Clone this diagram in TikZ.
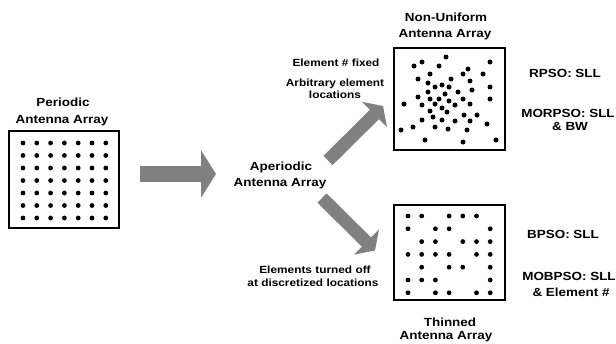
\documentclass[tikz,border=0pt]{standalone}
\usepackage{fontspec}
\newfontfamily\labfont[FakeStretch=1.14]{Liberation Sans}
\usetikzlibrary{arrows.meta}
\definecolor{arrgray}{RGB}{128,128,128}
\begin{document}
\begin{tikzpicture}[x=1pt,y=-1pt,
  bigtxt/.style={anchor=base,inner sep=0pt,font=\labfont\bfseries\fontsize{11.8}{13}\selectfont},
  smalltxt/.style={anchor=base,inner sep=0pt,font=\labfont\bfseries\fontsize{10.4}{12}\selectfont},
  arraybox/.style={draw=black,line width=1.4pt},
  elem/.style={fill=black,draw=none},
  harrow/.style={draw=arrgray,line width=16pt,line cap=butt,-{Triangle[length=15pt,width=47pt]}},
  darrow/.style={draw=arrgray,line width=13pt,line cap=butt,-{Triangle[length=12pt,width=35pt]}}]
\useasboundingbox (0,0) rectangle (616,343);

% Periodic array
\node[bigtxt] (pl1) at (63,106) {Periodic};
\node[bigtxt] (pl2) at (62,123) {Antenna Array};
\draw[arraybox] (9,131) rectangle (119,228);
\foreach \i in {0,...,6}{
  \foreach \j in {0,...,6}{
    \fill[elem] (23+13.8*\i,143+12.5*\j) circle (2.4);
  }
}

% Horizontal arrow
\coordinate (hs) at (140,174);
\coordinate (he) at (216,174);
\draw[harrow] (hs) -- (he);

% Aperiodic
\node[bigtxt] (al1) at (281,170) {Aperiodic};
\node[bigtxt] (al2) at (280,186) {Antenna Array};

% Diagonal arrows
\coordinate (us) at (328,160.5);
\coordinate (ue) at (383,106);
\draw[darrow] (us) -- (ue);
\coordinate (ls) at (322,198);
\coordinate (le) at (375,250.5);
\draw[darrow] (ls) -- (le);

% Upper labels
\node[smalltxt] (ef) at (336,66) {Element \# fixed};
\node[smalltxt] (ae1) at (335,86) {Arbitrary element};
\node[smalltxt] (ae2) at (335,98) {locations};

% Lower labels
\node[smalltxt] (et1) at (315,273) {Elements turned off};
\node[smalltxt] (et2) at (313,286) {at discretized locations};

% Non-uniform array
\node[bigtxt] (nl1) at (446,21) {Non-Uniform};
\node[bigtxt] (nl2) at (445,37) {Antenna Array};
\draw[arraybox] (394,48) rectangle (505,150);
\foreach \p in {(446,57),(414,66),(422,62),(439,66),(490,62),(468,69),(430,74),(463,74),(483,74),
  (418,79),(451,79),(470,81),(428,83),(435,87),(442,85),(449,87),(490,87),(428,92),(458,92),
  (472,90),(445,94),(418,97),(430,99),(439,99),(449,101),(463,99),(490,99),(404,104),(422,105),
  (435,104),(455,105),(470,104),(442,108),(430,111),(447,112),(464,115),(477,115),(433,117),
  (442,120),(422,120),(455,121),(470,121),(487,124),(413,127),(435,127),(448,129),(467,130),
  (401,130),(425,140),(463,142),(496,140)}{
  \fill[elem] \p circle (2.5);
}
\node[bigtxt] (r1) at (565,77) {RPSO: SLL};
\node[bigtxt] (r2) at (568,117) {MORPSO: SLL};
\node[bigtxt] (r3) at (570,130) {\& BW};

% Thinned array
\draw[arraybox] (394,205) rectangle (505,300);
\foreach \r/\cols in {0/{0,1,3,4,5},1/{0,2,3,6},2/{1,2,4,5,6},3/{0,1,2,3,5,6},4/{1,3,4,6},5/{0,1,2,6},6/{0,2,3,5,6}}{
  \foreach \c in \cols {
    \fill[elem] (408+13.7*\c,216+12.8*\r) circle (2.4);
  }
}
\node[bigtxt] (tl1) at (450,326) {Thinned};
\node[bigtxt] (tl2) at (446,339) {Antenna Array};
\node[bigtxt] (b1) at (563,238) {BPSO: SLL};
\node[bigtxt] (b2) at (569,280) {MOBPSO: SLL};
\node[bigtxt] (b3) at (571,296) {\& Element \#};
\end{tikzpicture}
\end{document}
